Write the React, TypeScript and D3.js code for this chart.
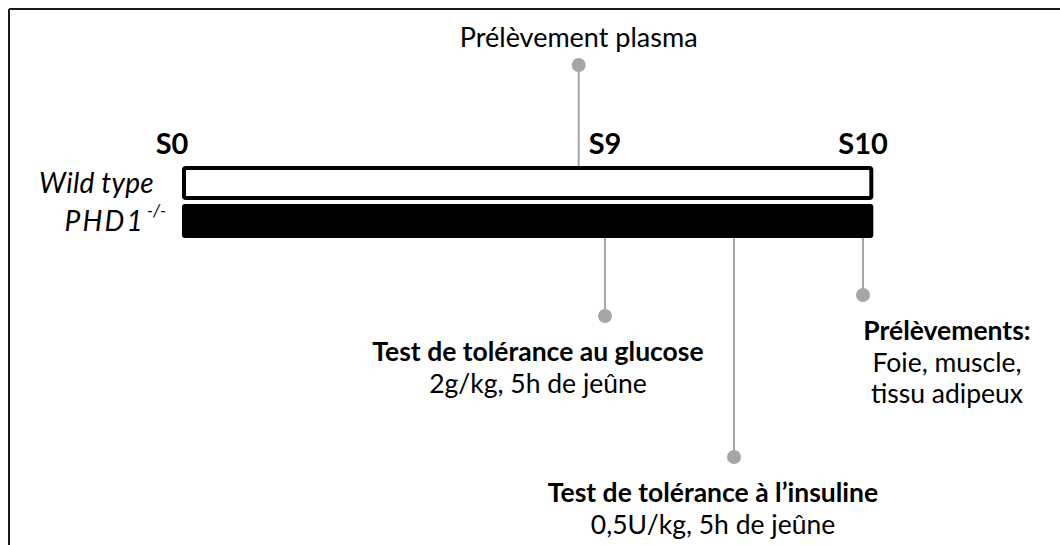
import React from "react";
import * as d3 from "d3";

const weekTicks = [0, 9, 10];
const weekLabels = ["S0", "S9", "S10"];
const groups = ["Wild type", "PHD1"];
const groupSup = ["", "-/-"];
const barStartWeek = 0;
const barEndWeek = 10.04;

const eventWeeks = [8.44, 9, 9.5, 10];
const eventSide = ["above", "below", "below", "below"];
const eventTitles = ["", "Test de tolérance au glucose", "Test de tolérance à l’insuline", "Prélèvements:"];
const eventLines = [
  ["Prélèvement plasma"],
  ["2g/kg, 5h de jeûne"],
  ["0,5U/kg, 5h de jeûne"],
  ["Foie, muscle,", "tissu adipeux"],
];

const W = 1060;
const H = 545;
const FONT = "Lato, 'Open Sans', sans-serif";
const FS = 26.5;

export default function App() {
  const x = d3.scaleLinear().domain([0, 9, 10]).range([182, 605, 863]);
  const y = d3.scaleBand().domain(groups).range([166, 238]).paddingInner(0.1);
  const grey = "#a6a6a6";

  const dotY = [65, 316, 457, 295];
  const textDx = [0, -67, -21, 84];
  const labelDx = [-10, 0, 0];

  const barTop = y(groups[0])!;
  const barBottom = y(groups[1])! + y.bandwidth();

  return (
    <svg
      width={W}
      height={H}
      style={{ position: "absolute", left: 0, top: 0, background: "#fff" }}
      fontFamily={FONT}
    >
      <rect x={0} y={0} width={W} height={H} fill="#fff" />
      <line x1={9} y1={9} x2={W} y2={9} stroke="#1a1a1a" strokeWidth={2} />
      <line x1={9} y1={9} x2={9} y2={H} stroke="#1a1a1a" strokeWidth={2} />

      {eventWeeks.map((w, i) => {
        const cx = x(w);
        const y1 = eventSide[i] === "above" ? barTop : barBottom;
        return (
          <g key={"ev" + i}>
            <line x1={cx} x2={cx} y1={y1} y2={dotY[i]} stroke={grey} strokeWidth={2} />
            <circle cx={cx} cy={dotY[i]} r={7} fill={grey} />
          </g>
        );
      })}

      {groups.map((g, i) => {
        const x0 = x(barStartWeek);
        const x1 = x(barEndWeek);
        const y0 = y(g)!;
        const bh = y.bandwidth();
        return i === 0 ? (
          <rect key={g} x={x0 + 2} y={y0 + 2} width={x1 - x0 - 4} height={bh - 4} rx={2}
            fill="#fff" stroke="#000" strokeWidth={4} />
        ) : (
          <rect key={g} x={x0} y={y0} width={x1 - x0} height={bh} rx={3} fill="#000" />
        );
      })}

      {groups.map((g, i) => (
        <text key={"gl" + i} x={i === 0 ? 154 : 145} y={y(g)! + y.bandwidth() / 2 + 10}
          textAnchor="end" fontStyle="italic" fontSize={28} letterSpacing={i === 0 ? 0.3 : 2.2} fill="#000">
          {g}
        </text>
      ))}
      {groups.map((g, i) =>
        groupSup[i] ? (
          <text key={"gs" + i} x={147} y={y(g)! + y.bandwidth() / 2 - 4}
            textAnchor="start" fontStyle="italic" fontSize={17} fill="#000">
            {groupSup[i]}
          </text>
        ) : null
      )}

      {weekTicks.map((t, i) => (
        <text key={"wk" + i} x={x(t) + labelDx[i]} y={154} textAnchor="middle"
          fontWeight="bold" fontSize={29} fill="#000">
          {weekLabels[i]}
        </text>
      ))}

      {eventWeeks.map((w, i) => {
        const cx = x(w) + textDx[i];
        if (eventSide[i] === "above") {
          return (
            <text key={"et" + i} x={cx} y={47} textAnchor="middle" fontSize={FS + 0.5} fill="#000">
              {eventLines[i][0]}
            </text>
          );
        }
        const base = dotY[i] + 45;
        return (
          <g key={"et" + i}>
            <text x={cx} y={base} textAnchor="middle" fontWeight="bold" fontSize={FS} fill="#000">
              {eventTitles[i]}
            </text>
            {eventLines[i].map((l, j) => (
              <text key={j} x={cx} y={base + 31.5 * (j + 1)} textAnchor="middle" fontSize={FS} fill="#000">
                {l}
              </text>
            ))}
          </g>
        );
      })}
    </svg>
  );
}
